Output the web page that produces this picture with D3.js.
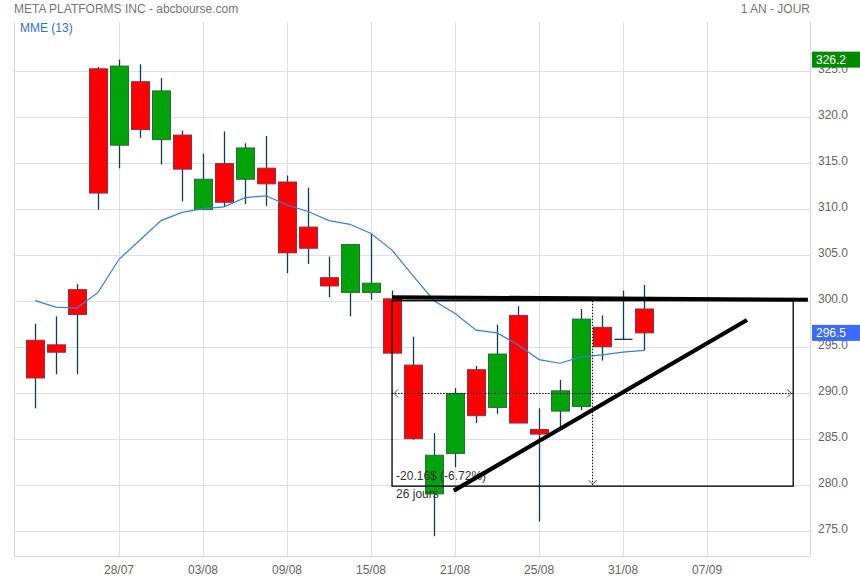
<!DOCTYPE html>
<html><head><meta charset="utf-8">
<script src="https://cdn.jsdelivr.net/npm/d3@7"></script>
<style>
html,body{margin:0;padding:0;background:#fff;}
svg{display:block;font-family:"Liberation Sans",Arial,sans-serif;}
</style></head>
<body><svg id="c" width="860" height="580"></svg>
<script>
const dates = ["24/07","25/07","26/07","27/07","28/07","31/07","01/08","02/08","03/08","04/08","07/08","08/08","09/08","10/08","11/08","14/08","15/08","16/08","17/08","18/08","21/08","22/08","23/08","24/08","25/08","28/08","29/08","30/08","31/08","01/09"];
const opens  = [295.7,295.2,301.2,325.2,316.9,323.8,317.5,318.0,309.9,314.9,313.2,314.4,312.9,308.0,302.5,300.9,300.9,300.2,293.0,279.0,283.4,292.5,288.4,298.4,286.0,288.0,288.5,297.1,295.8,299.1];
const highs  = [297.5,298.3,301.8,325.4,326.2,325.7,324.2,318.5,316.0,318.4,317.1,317.9,313.6,312.3,304.8,306.1,307.3,301.1,296.1,285.6,290.5,292.9,297.4,299.4,288.3,291.4,299.1,298.4,301.1,301.7];
const lows   = [288.3,292.0,292.0,309.9,314.4,317.7,314.8,310.8,309.9,310.2,310.5,310.3,303.0,304.0,300.4,298.3,300.1,294.3,284.9,274.4,281.9,286.7,287.7,286.7,276.0,286.2,288.1,293.5,295.8,294.6];
const closes = [291.6,294.4,298.5,311.7,325.5,318.6,322.8,314.3,313.2,310.7,316.6,312.7,305.2,305.7,301.6,306.1,301.9,294.3,285.0,283.2,289.9,287.5,294.2,286.7,285.5,290.2,298.0,295.0,295.8,296.5];
const ema13  = [300.0,299.3,299.2,300.9,304.5,306.6,308.7,309.6,310.0,310.2,311.2,311.4,310.4,309.7,308.7,308.3,307.3,305.5,302.7,300.0,298.6,296.8,296.5,295.2,293.6,293.2,293.9,294.1,294.4,294.6];
const xTickIndex  = [4,8,12,16,20,24,28,32];
const xTickLabels = ["28/07","03/08","09/08","15/08","21/08","25/08","31/08","07/09"];
const yTicks = [275,280,285,290,295,300,305,310,315,320,325];
const highMark = 326.2, lastMark = 296.5;
// annotations (data coordinates: candle index, price)
const resistance = [[17.0,300.37],[36.8,300.1]];
const support    = [[19.94,279.35],[33.9,297.9]];
const measureBox = [[17.0,300.0],[36.1,279.84]];
const measureText = ["-20.16$ (-6.72%)","26 jours"];

const svg = d3.select("#c");
const L=14, R=810, T=22, B=556;
const x = d3.scaleLinear().domain([-1,36.9]).range([L,R]);
const y = d3.scaleLinear().domain([272.25,330.29]).range([B,T]);

// header
svg.append("text").attr("x",14).attr("y",13).attr("font-size",12).attr("fill","#777").text("META PLATFORMS INC - abcbourse.com");
svg.append("text").attr("x",810).attr("y",13).attr("font-size",12).attr("fill","#777").attr("text-anchor","end").text("1 AN - JOUR");

// grid
const g = svg.append("g");
g.selectAll(".hg").data(yTicks).join("line")
  .attr("x1",L).attr("x2",R).attr("y1",d=>Math.round(y(d))+0.5).attr("y2",d=>Math.round(y(d))+0.5)
  .attr("stroke","#e0e0e0").attr("stroke-width",1);
g.selectAll(".vg").data(xTickIndex).join("line")
  .attr("x1",d=>Math.round(x(d))+0.5).attr("x2",d=>Math.round(x(d))+0.5).attr("y1",T).attr("y2",B)
  .attr("stroke","#e0e0e0").attr("stroke-width",1);
g.append("line").attr("x1",L+0.5).attr("x2",L+0.5).attr("y1",T).attr("y2",B).attr("stroke","#d8d8d8");
g.append("line").attr("x1",R+0.5).attr("x2",R+0.5).attr("y1",T).attr("y2",B).attr("stroke","#d8d8d8");
g.append("line").attr("x1",L).attr("x2",R).attr("y1",B+0.5).attr("y2",B+0.5).attr("stroke","#d8d8d8");

// axis labels
svg.selectAll(".yl").data(yTicks).join("text")
  .attr("x",818).attr("y",d=>y(d)+2).attr("font-size",12).attr("fill","#666").text(d=>d.toFixed(1));
svg.selectAll(".xl").data(xTickIndex).join("text")
  .attr("x",d=>x(d)).attr("y",574).attr("font-size",12).attr("fill","#666").attr("text-anchor","middle")
  .text((d,i)=>xTickLabels[i]);

svg.append("text").attr("x",20).attr("y",32).attr("font-size",12).attr("fill","#2f72d0").text("MME (13)");

// candles
const idx = d3.range(dates.length);
const cw = 18;
const cg = svg.append("g");
cg.selectAll(".wick").data(idx).join("line")
  .attr("x1",i=>Math.round(x(i))+0.5).attr("x2",i=>Math.round(x(i))+0.5)
  .attr("y1",i=>y(highs[i])).attr("y2",i=>y(lows[i]))
  .attr("stroke","#123d52").attr("stroke-width",1.3);
cg.selectAll(".body").data(idx.filter(i=>opens[i]!==closes[i])).join("rect")
  .attr("x",i=>Math.round(x(i))-cw/2+0.5).attr("width",cw)
  .attr("y",i=>y(Math.max(opens[i],closes[i])))
  .attr("height",i=>Math.max(1,y(Math.min(opens[i],closes[i]))-y(Math.max(opens[i],closes[i]))))
  .attr("fill",i=>closes[i]>opens[i]?"#00a40a":"#ff0000")
  .attr("stroke",i=>closes[i]>opens[i]?"#2b6b34":"#8e2f45").attr("stroke-width",1);
cg.selectAll(".doji").data(idx.filter(i=>opens[i]===closes[i])).join("line")
  .attr("x1",i=>Math.round(x(i))-cw/2+0.5).attr("x2",i=>Math.round(x(i))+cw/2+0.5)
  .attr("y1",i=>y(opens[i])).attr("y2",i=>y(opens[i]))
  .attr("stroke","#123d52").attr("stroke-width",1.3);

// EMA
svg.append("path").datum(idx)
  .attr("d",d3.line().x(i=>x(i)).y(i=>y(ema13[i])))
  .attr("fill","none").attr("stroke","#3a80d6").attr("stroke-width",1.2);

// measurement box
const a = svg.append("g");
const bx0=x(measureBox[0][0]), bx1=x(measureBox[1][0]), by0=y(measureBox[0][1]), by1=y(measureBox[1][1]);
a.append("rect").attr("x",bx0).attr("y",by0).attr("width",bx1-bx0).attr("height",by1-by0)
  .attr("fill","none").attr("stroke","#000").attr("stroke-width",1.3);
const my=(by0+by1)/2, mx=(bx0+bx1)/2;
a.append("line").attr("x1",bx0).attr("x2",bx1).attr("y1",my).attr("y2",my)
  .attr("stroke","#000").attr("stroke-dasharray","1.5,1.5");
a.append("line").attr("x1",mx).attr("x2",mx).attr("y1",by0).attr("y2",by1)
  .attr("stroke","#000").attr("stroke-dasharray","1.5,1.5");
a.append("path").attr("d",`M${bx0+6},${my-4}L${bx0+2},${my}L${bx0+6},${my+4}`).attr("fill","none").attr("stroke","#555");
a.append("path").attr("d",`M${bx1-6},${my-4}L${bx1-2},${my}L${bx1-6},${my+4}`).attr("fill","none").attr("stroke","#555");
a.append("path").attr("d",`M${mx-4},${by1-6}L${mx},${by1-2}L${mx+4},${by1-6}`).attr("fill","none").attr("stroke","#555");
a.append("text").attr("x",bx0+4).attr("y",by1-6).attr("font-size",12).attr("fill","#333").text(measureText[0]);
a.append("text").attr("x",bx0+4).attr("y",by1+12).attr("font-size",12).attr("fill","#333").text(measureText[1]);

// trend lines
[resistance,support].forEach(seg=>{
  a.append("line").attr("x1",x(seg[0][0])).attr("y1",y(seg[0][1])).attr("x2",x(seg[1][0])).attr("y2",y(seg[1][1]))
   .attr("stroke","#000").attr("stroke-width",4.2);
});

// price markers
function marker(v,color){
  const m = svg.append("g");
  m.append("rect").attr("x",812).attr("y",y(v)-8).attr("width",48).attr("height",16).attr("fill",color);
  m.append("text").attr("x",816).attr("y",y(v)+4.5).attr("font-size",12).attr("fill","#fff").text(v.toFixed(1));
}
marker(highMark,"#008a00");
marker(lastMark,"#3d6bff");
</script></body></html>
